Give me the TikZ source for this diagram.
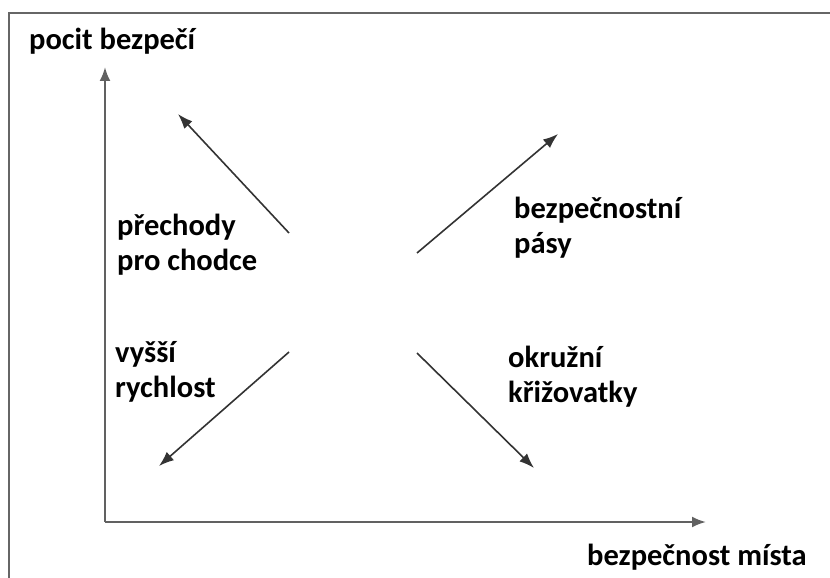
\documentclass[tikz,border=0pt]{standalone}
\usepackage{fontspec}
\setmainfont{Carlito}
\usetikzlibrary{arrows.meta,positioning}

\begin{document}
\begin{tikzpicture}[x=1pt, y=-1pt,
    label text/.style={font=\bfseries\fontsize{30.5}{35}\selectfont, align=left, inner sep=0pt},
    axis line/.style={draw=black!62, line width=2.2pt, -{Latex[length=14pt, width=11pt]}},
    trend/.style={draw=black!80, line width=1.6pt, -{Latex[length=15pt, width=11pt]}}]
    \useasboundingbox (0, 0) rectangle (830, 578);
    \clip (0, 0) rectangle (830, 578);
    \draw [black!60, line width=2pt] (9, 13) rectangle (850, 600);

    \coordinate (origin) at (105, 522);
    \coordinate (ytip) at (105, 67);
    \coordinate (xtip) at (706, 522);

    \draw [axis line] (origin) -- (ytip);
    \draw [axis line] (origin) -- (xtip);

    \coordinate (nwfrom) at (289, 233);
    \coordinate (nwto) at (178, 114);
    \coordinate (nefrom) at (417, 253);
    \coordinate (neto) at (558, 134);
    \coordinate (swfrom) at (289, 352);
    \coordinate (swto) at (159, 466);
    \coordinate (sefrom) at (417, 353);
    \coordinate (seto) at (534, 468);

    \draw [trend] (nwfrom) -- (nwto);
    \draw [trend] (nefrom) -- (neto);
    \draw [trend] (swfrom) -- (swto);
    \draw [trend] (sefrom) -- (seto);

    % multi-line labels: base anchor sits on the last line
    \node (ylabel) at (29, 50) [label text, anchor = base west] {pocit bezpečí};
    \node (xlabel) at (587, 565) [label text, anchor = base west] {bezpečnost místa};

    \node (crossing) at (117, 270) [label text, anchor = base west] {přechody\\pro chodce};
    \node (belts) at (514, 253) [label text, anchor = base west] {bezpečnostní\\pásy};
    \node (speed) at (115, 397) [label text, anchor = base west] {vyšší\\rychlost};
    \node (roundabout) at (508, 402) [label text, anchor = base west] {okružní\\křižovatky};
\end{tikzpicture}
\end{document}
